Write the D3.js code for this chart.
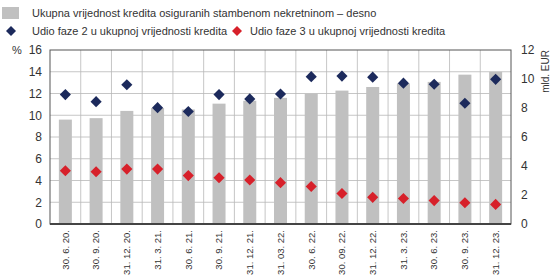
<!DOCTYPE html>
<html>
<head>
<meta charset="utf-8">
<script src="https://cdn.jsdelivr.net/npm/d3@7"></script>
<style>
  body { margin: 0; background: #fff; }
  text { font-family: "Liberation Sans", Arial, sans-serif; fill: #333; }
</style>
</head>
<body>
<div id="chartContainer"></div>
<script>
// chart values
const dates = ["30. 6. 20.", "30. 9. 20.", "31. 12. 20.", "31. 3. 21.", "30. 6. 21.", "30. 9. 21.",
  "31. 12. 21.", "31. 03. 22.", "30. 6. 22.", "30. 09. 22.", "31. 12. 22.", "31. 3. 23.",
  "30. 6. 23.", "30. 9. 23.", "31. 12. 23."];
// total value of loans secured by residential property, bn EUR (right axis)
const totalLoans = [7.2, 7.3, 7.8, 8.0, 7.9, 8.3, 8.5, 8.7, 9.0, 9.2, 9.45, 9.7, 9.8, 10.3, 10.5];
// stage 2 share, % (left axis)
const stage2 = [11.9, 11.25, 12.8, 10.7, 10.35, 11.9, 11.5, 11.95, 13.55, 13.6, 13.5, 12.95, 12.85, 11.1, 13.3];
// stage 3 share, % (left axis)
const stage3 = [4.9, 4.8, 5.05, 5.05, 4.45, 4.25, 4.05, 3.8, 3.45, 2.8, 2.45, 2.35, 2.15, 1.95, 1.8];
const leftTicks = [0, 2, 4, 6, 8, 10, 12, 14, 16];
const rightTicks = [0, 2, 4, 6, 8, 10, 12];

const W = 555, H = 276;
const margin = { top: 50, right: 44, bottom: 52, left: 50 };
const width = W - margin.left - margin.right;
const height = H - margin.top - margin.bottom;

const svgRoot = d3.select("#chartContainer")
  .append("svg")
  .attr("width", W)
  .attr("height", H);

// legend
const legend = svgRoot.append("g");
legend.append("rect").attr("x", 2).attr("y", 7).attr("width", 17).attr("height", 12).attr("fill", "#c0c0c0");
legend.append("text").attr("x", 32).attr("y", 17).attr("font-size", "11px")
  .text("Ukupna vrijednost kredita osiguranih stambenom nekretninom – desno");
const diamond = d3.symbol().type(d3.symbolSquare).size(50);
legend.append("path").attr("d", diamond).attr("transform", "translate(11,31) rotate(45)").attr("fill", "#1c2a5c");
legend.append("text").attr("x", 32).attr("y", 35).attr("font-size", "11px").text("Udio faze 2 u ukupnoj vrijednosti kredita");
legend.append("path").attr("d", diamond).attr("transform", "translate(237,31) rotate(45)").attr("fill", "#d7202a");
legend.append("text").attr("x", 250).attr("y", 35).attr("font-size", "11px").text("Udio faze 3 u ukupnoj vrijednosti kredita");

const svg = svgRoot.append("g")
  .attr("transform", `translate(${margin.left}, ${margin.top})`);

// scales
const xScale = d3.scaleBand().domain(dates).range([0, width]).paddingInner(0).paddingOuter(0);
const yLeft = d3.scaleLinear().domain([0, 16]).range([height, 0]);
const yRight = d3.scaleLinear().domain([0, 12]).range([height, 0]);

// gridlines
svg.append("g")
  .selectAll("line")
  .data(leftTicks.slice(1, -1))
  .enter()
  .append("line")
  .attr("x1", 0).attr("x2", width)
  .attr("y1", d => yLeft(d)).attr("y2", d => yLeft(d))
  .attr("stroke", "#b8b8b8").attr("stroke-width", 0.8);

svg.append("g")
  .selectAll("line")
  .data(dates.slice(1))
  .enter()
  .append("line")
  .attr("x1", d => xScale(d)).attr("x2", d => xScale(d))
  .attr("y1", 0).attr("y2", height)
  .attr("stroke", "#b8b8b8").attr("stroke-width", 0.8);

// bars
const barW = 13;
svg.selectAll(".bar")
  .data(dates)
  .enter()
  .append("rect")
  .attr("class", "bar")
  .attr("x", d => xScale(d) + xScale.bandwidth() / 2 - barW / 2)
  .attr("y", (d, i) => yRight(totalLoans[i]))
  .attr("width", barW)
  .attr("height", (d, i) => height - yRight(totalLoans[i]))
  .attr("fill", "#c0c0c0");

// diamonds
const markSym = d3.symbol().type(d3.symbolSquare).size(62);
function addDiamonds(values, color) {
  svg.append("g")
    .selectAll("path")
    .data(dates)
    .enter()
    .append("path")
    .attr("d", markSym)
    .attr("transform", (d, i) => `translate(${xScale(d) + xScale.bandwidth() / 2}, ${yLeft(values[i])}) rotate(45)`)
    .attr("fill", color);
}
addDiamonds(stage3, "#d7202a");
addDiamonds(stage2, "#1c2a5c");

// frame
svg.append("rect")
  .attr("x", 0).attr("y", 0).attr("width", width).attr("height", height)
  .attr("fill", "none").attr("stroke", "#555").attr("stroke-width", 1);
svg.append("line")
  .attr("x1", 0).attr("x2", width).attr("y1", height).attr("y2", height)
  .attr("stroke", "#444").attr("stroke-width", 2);

// left axis
const leftAxis = svg.append("g")
  .call(d3.axisLeft(yLeft).tickValues(leftTicks).tickSize(0).tickPadding(8));
leftAxis.select(".domain").remove();
leftAxis.selectAll("text").attr("font-size", "12px").attr("fill", "#444");

// right axis
const rightAxis = svg.append("g")
  .attr("transform", `translate(${width}, 0)`)
  .call(d3.axisRight(yRight).tickValues(rightTicks).tickSize(0).tickPadding(10));
rightAxis.select(".domain").remove();
rightAxis.selectAll("text").attr("font-size", "12px").attr("fill", "#444");

// bottom axis
const bottomAxis = svg.append("g")
  .attr("transform", `translate(0, ${height})`)
  .call(d3.axisBottom(xScale).tickSize(0).tickPadding(0));
bottomAxis.select(".domain").remove();
bottomAxis.selectAll("text")
  .attr("font-size", "9.5px")
  .attr("fill", "#444")
  .attr("transform", "rotate(-90)")
  .attr("x", -6)
  .attr("y", 0)
  .attr("dy", "0.35em")
  .attr("text-anchor", "end");

// axis units
svgRoot.append("text").attr("x", 12).attr("y", margin.top + 4).attr("font-size", "11px").attr("fill", "#444").text("%");
svgRoot.append("text")
  .attr("transform", `translate(549, ${margin.top}) rotate(-90)`)
  .attr("text-anchor", "end")
  .attr("font-size", "10px")
  .attr("fill", "#444")
  .text("mld. EUR");
</script>
</body>
</html>
